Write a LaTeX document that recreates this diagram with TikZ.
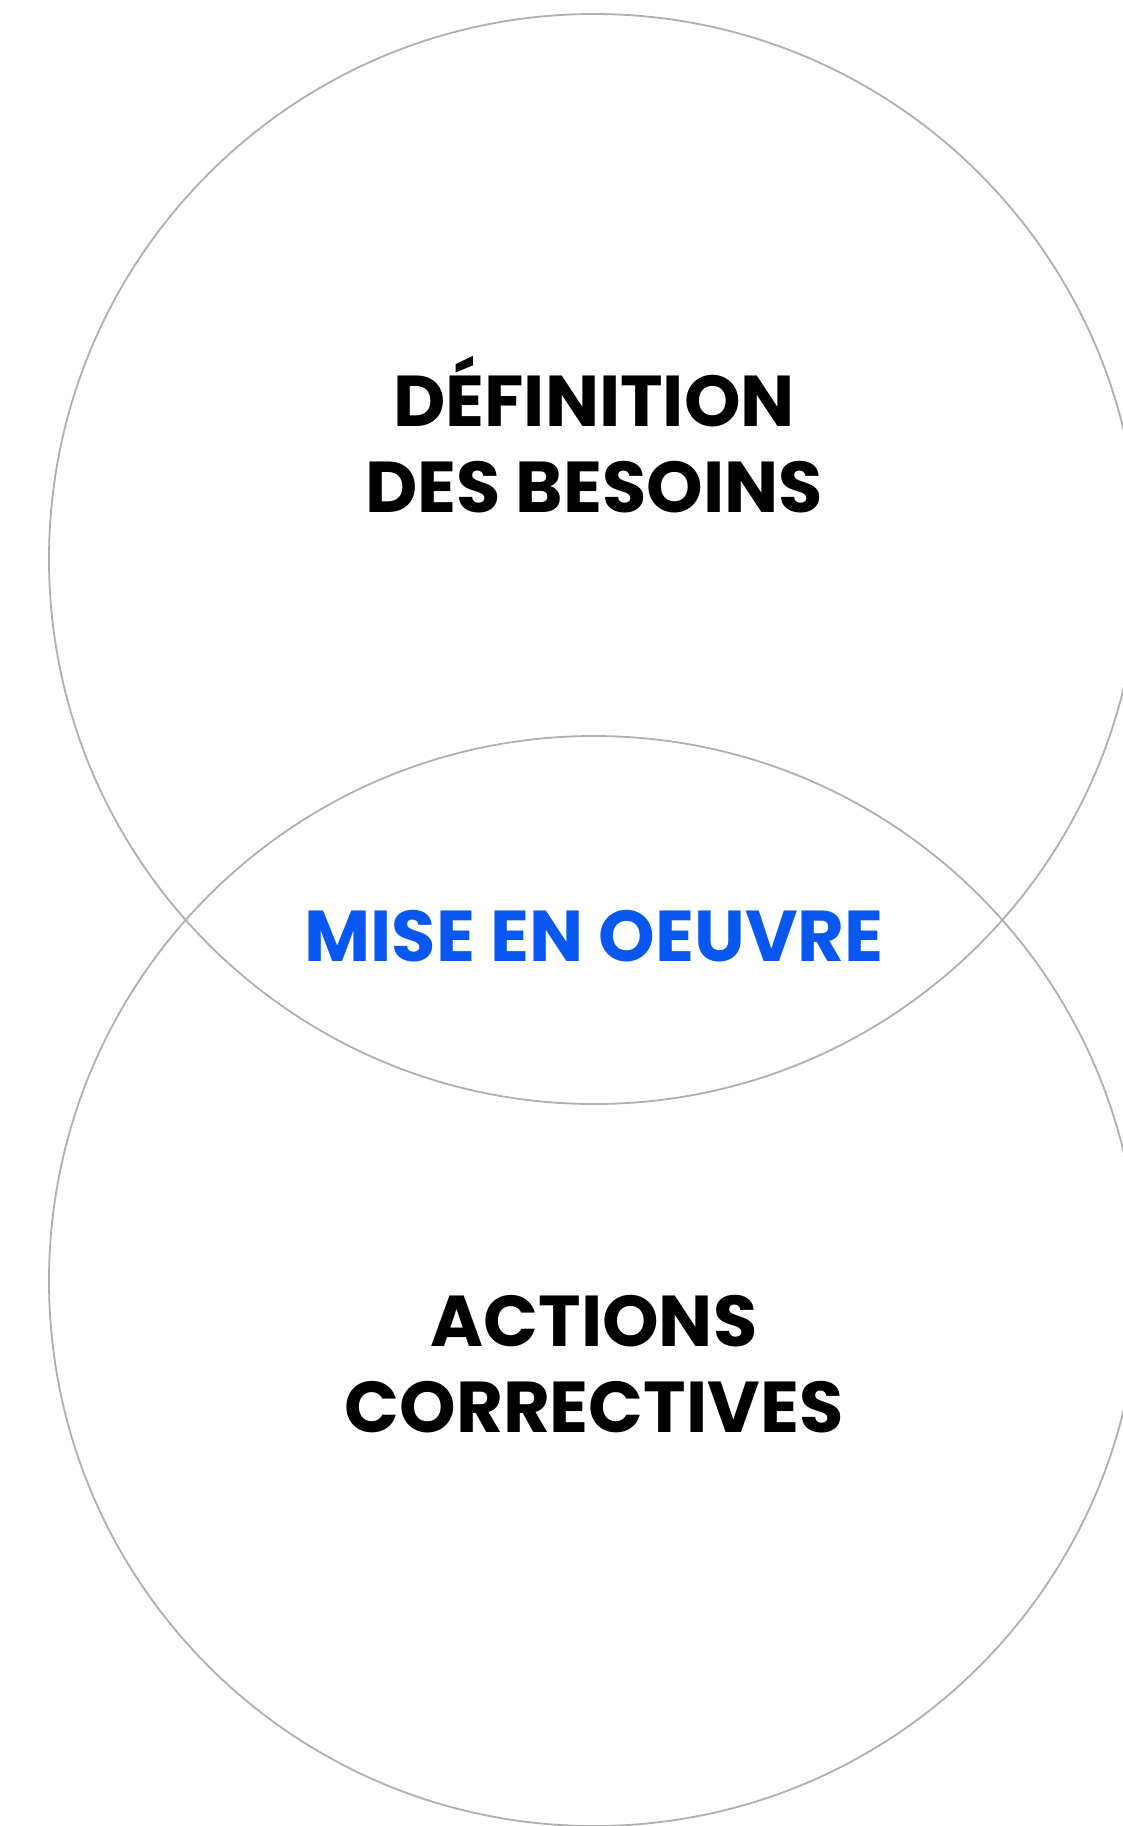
\documentclass[tikz,border=0pt]{standalone}
\usepackage{fontspec}
\setmainfont{Poppins}
\usetikzlibrary{calc}
\definecolor{ringgray}{RGB}{175,175,175}
\definecolor{oeuvreblue}{RGB}{8,87,240}

\begin{document}
\begin{tikzpicture}[x=1pt,y=-1pt,
    ring/.style={draw=ringgray, line width=1.8pt},
    label/.style={align=center, anchor=base, inner sep=0pt,
        font=\bfseries\fontsize{72}{86}\selectfont}]
        % Define coordinates
        \coordinate (c1) at (594,559);
        \coordinate (c2) at (594,1281);

        % Fix the page size
        \useasboundingbox (0,0) rectangle (1123,1826);

        % Draw the two circles
        \begin{scope}
            \clip (0,0) rectangle (1123,1826);
            \draw[ring] (c1) circle (545pt);
            \draw[ring] (c2) circle (545pt);
        \end{scope}

        % Labels (base = baseline of the last line)
        \node[label] (besoins) at (594,512) {DÉFINITION\\DES BESOINS};
        \node[label, text=oeuvreblue] (oeuvre) at (594,961) {MISE EN OEUVRE};
        \node[label] (actions) at (594,1432) {ACTIONS\\CORRECTIVES};
    \end{tikzpicture}
\end{document}
